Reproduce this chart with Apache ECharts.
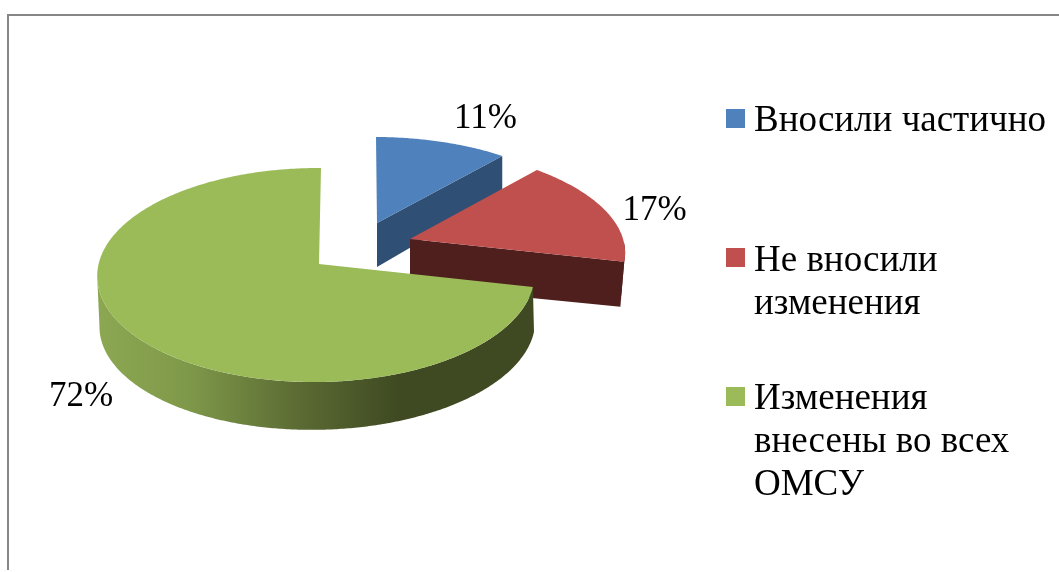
<!DOCTYPE html>
<html>
<head>
<meta charset="utf-8">
<style>
  html, body { margin: 0; padding: 0; background: #fff; }
  #chart { width: 1059px; height: 572px; }
</style>
<script src="https://cdn.jsdelivr.net/npm/echarts@6/dist/echarts.min.js"></script>
</head>
<body>
<div id="chart"></div>
<script>
const categories = ["Вносили частично", "Не вносили\nизменения", "Изменения\nвнесены во всех\nОМСУ"]
const values = [11, 17, 72]

const topColors = ["#4F81BD", "#C0504D", "#9BBB59"]
const cutColors = ["#2F5074", "#4F1F1E", "#5b6b33"]
const labelFont = '35px "Liberation Serif"'
const legendFont = '37px "Liberation Serif"'

// fake 3d: each slice has its own projection, top face and bottom face
const slices = [
  { apex: [377, 223], top: { x: 377, y: 223, r: 213, q: 93.7 }, bottom: { x: 377, y: 267, r: 213, q: 102 }, shear: -1, label: [485.5, 119] },
  { apex: [410, 239], top: { x: 410, y: 239, r: 217, q: 100, tilt: 4 }, bottom: { x: 410, y: 286, r: 213, q: 100, tilt: 2 }, shear: -2, label: [654.5, 211] },
  { apex: [319, 264], top: { x: 319, y: 267, r: 218, q: 106.4, k: 0.075 }, bottom: { x: 320.5, y: 314, r: 217, q: 105.5, tilt: -2 }, shear: 2, label: [81, 397] }
]
const depthK = 0.089
const sideK = 0.0136
const legendTop = [100, 240, 378]
const legendIcon = [109, 248, 387]

const total = values.reduce((a, b) => a + b, 0)
const startShares = values.map((v, i) => values.slice(0, i).reduce((a, b) => a + b, 0) / total)

function project(face, angle, shear) {
  const sx = Math.sin(angle)
  const z = Math.cos(angle)
  const k = face.k === undefined ? depthK : face.k
  const s = 1 / (1 + k * z + sideK * sx)
  return [
    face.x + face.r * sx * s + (shear || 0) * z,
    face.y - face.q * z * s + (face.tilt || 0) * sx
  ]
}

function arc(face, from, to, shear) {
  const steps = Math.max(2, Math.ceil((to - from) / 0.01))
  const pts = []
  for (let i = 0; i <= steps; i++) pts.push(project(face, from + (to - from) * i / steps, shear))
  return pts
}

function renderSlice(index) {
  return function (params, api) {
    const share = api.value(0) / total
    const from = startShares[index] * Math.PI * 2
    const to = (startShares[index] + share) * Math.PI * 2
    const g = slices[index]
    const children = []

    // cut face along the end edge, only the two exploded slices show it
    if (index < 2) {
      const a = project(g.top, to, g.shear)
      const b = project(g.bottom, to, g.shear)
      children.push({
        type: "polygon",
        shape: { points: [g.apex, a, b, [g.bottom.x, g.bottom.y]] },
        style: { fill: cutColors[index] }
      })
    }

    // outer wall, front half only, stops where the rim is widest
    const wallFrom = Math.max(from, Math.PI / 2)
    const wallTo = Math.min(to, Math.PI * 1.5 - 0.09)
    if (wallTo > wallFrom) {
      const upper = arc(g.top, wallFrom, wallTo, g.shear)
      const lower = arc(g.bottom, wallFrom, wallTo, g.shear).reverse()
      const fill = index === 2
        ? new echarts.graphic.LinearGradient(100, 0, 532, 0, [
            { offset: 0, color: "#8CA752" },
            { offset: 0.2, color: "#7F994A" },
            { offset: 0.46, color: "#5B6B33" },
            { offset: 0.69, color: "#3F4A22" },
            { offset: 1, color: "#3F4A22" }
          ], true)
        : cutColors[index]
      children.push({ type: "polygon", shape: { points: upper.concat(lower) }, style: { fill: fill } })
    }

    const face = [g.apex].concat(arc(g.top, from, to, g.shear))
    children.push({ type: "polygon", shape: { points: face }, style: { fill: topColors[index] } })

    children.push({
      type: "text",
      style: {
        x: g.label[0],
        y: g.label[1],
        text: api.value(0) + "%",
        font: labelFont,
        fill: "#000",
        align: "center",
        verticalAlign: "middle"
      }
    })
    return { type: "group", children: children }
  }
}

const legendGraphics = []
categories.forEach((name, i) => {
  legendGraphics.push({
    type: "rect",
    shape: { x: 726, y: legendIcon[i], width: 19, height: 19 },
    style: { fill: topColors[i] }
  })
  legendGraphics.push({
    type: "text",
    style: { x: 754, y: legendTop[i], text: name, font: legendFont, lineHeight: 43, fill: "#000" }
  })
})

const chart = echarts.init(document.getElementById("chart"), null, { renderer: "canvas" })
chart.setOption({
  animation: false,
  backgroundColor: "#fff",
  graphic: [
    {
      type: "polyline",
      shape: { points: [[8, 570], [8, 15], [1059, 15]] },
      style: { stroke: "#868686", lineWidth: 2, fill: null }
    }
  ].concat(legendGraphics),
  series: categories.map((name, i) => ({
    type: "custom",
    name: name,
    coordinateSystem: "none",
    silent: true,
    data: [[values[i]]],
    renderItem: renderSlice(i)
  }))
})
</script>
</body>
</html>
